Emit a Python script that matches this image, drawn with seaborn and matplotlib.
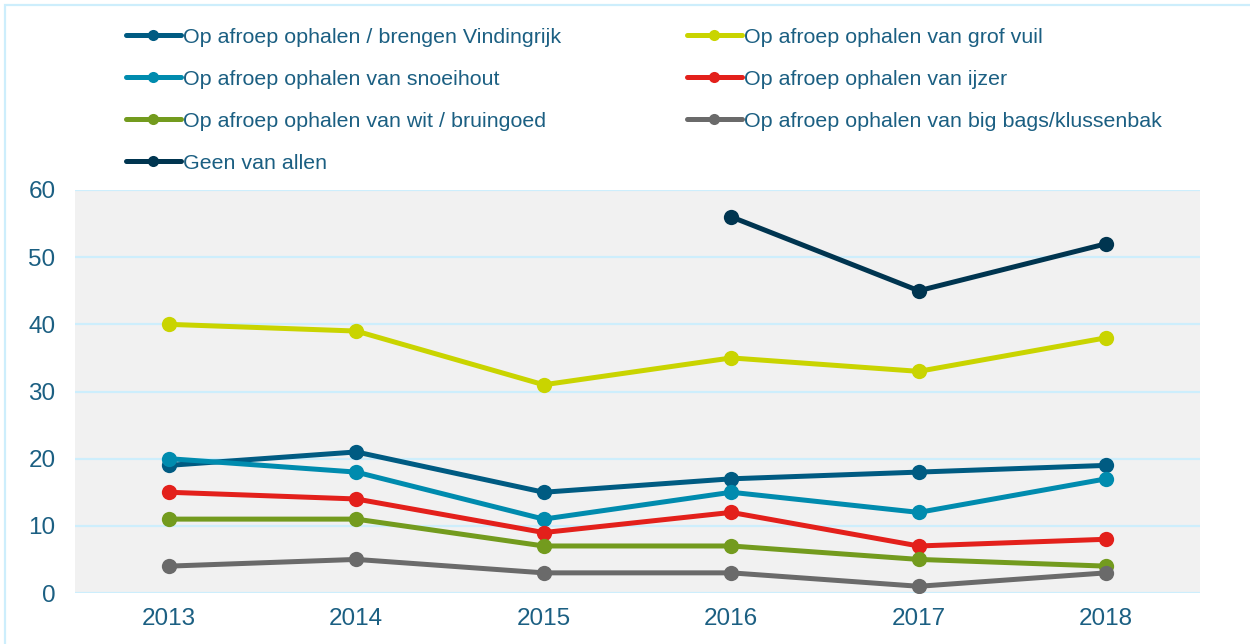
import numpy as np
import pandas as pd
import matplotlib
matplotlib.use("Agg")
import matplotlib.pyplot as plt
from matplotlib.patches import Rectangle
from matplotlib.lines import Line2D
import seaborn as sns

years = ["2013", "2014", "2015", "2016", "2017", "2018"]
vindingrijk = [19, 21, 15, 17, 18, 19]
grof_vuil = [40, 39, 31, 35, 33, 38]
snoeihout = [20, 18, 11, 15, 12, 17]
ijzer = [15, 14, 9, 12, 7, 8]
wit_bruingoed = [11, 11, 7, 7, 5, 4]
big_bags = [4, 5, 3, 3, 1, 3]
geen = [np.nan, np.nan, np.nan, 56, 45, 52]

series = [
    ("Op afroep ophalen / brengen Vindingrijk", vindingrijk, "#005b82"),
    ("Op afroep ophalen van grof vuil", grof_vuil, "#c9d400"),
    ("Op afroep ophalen van snoeihout", snoeihout, "#008bae"),
    ("Op afroep ophalen van ijzer", ijzer, "#e3201b"),
    ("Op afroep ophalen van wit / bruingoed", wit_bruingoed, "#739b1e"),
    ("Op afroep ophalen van big bags/klussenbak", big_bags, "#6a6a6a"),
    ("Geen van allen", geen, "#003550"),
]

sns.set_theme(style="white")
plt.rcParams['font.family'] = ['Liberation Sans', 'DejaVu Sans']
text_color = "#1b5f82"
grid_color = "#cdeefc"

fig = plt.figure(figsize=(12.5, 6.44), dpi=100)
ax = fig.add_axes([75/1250, 1 - 593/644, (1200-75)/1250, (593-190)/644])
ax.set_facecolor("#f1f1f1")

x_idx = np.arange(len(years))
handles = {}
for name, vals, col in series:
    df = pd.DataFrame({"x": x_idx, "y": vals}).dropna()
    sns.lineplot(data=df, x="x", y="y", ax=ax, color=col, linewidth=3.6,
                 marker="o", markersize=11, markeredgewidth=0, zorder=3)
    handles[name] = Line2D([], [], color=col, linewidth=3.6, marker="o",
                           markersize=8, markeredgewidth=0)

ax.set_xlim(-0.5, 5.5)
ax.set_ylim(0, 60)
ax.set_yticks(range(0, 61, 10))
ax.set_xticks(x_idx)
ax.set_xticklabels(years)
ax.set_xlabel("")
ax.set_ylabel("")
ax.yaxis.grid(True, color=grid_color, linewidth=1.6)
ax.set_axisbelow(True)
for s in ax.spines.values():
    s.set_visible(False)
ax.tick_params(axis="both", length=0, labelsize=17.5, colors=text_color)
ax.tick_params(axis="y", pad=14)
ax.tick_params(axis="x", pad=11)

order = [0, 2, 4, 6, 1, 3, 5]
names = [series[i][0] for i in order]
leg = fig.legend([handles[n] for n in names], names, loc="upper left",
                 bbox_to_anchor=(117/1250, 1 - 19/644), ncol=2, frameon=False,
                 fontsize=15.4, handlelength=2.57, handletextpad=0.1,
                 columnspacing=5.9, labelspacing=1.08, borderaxespad=0)
for t in leg.get_texts():
    t.set_color(text_color)

fig.patches.append(Rectangle((5/1250, -0.1), 1.2, 1 - 5/644 + 0.1,
                             transform=fig.transFigure, fill=False,
                             edgecolor=grid_color, linewidth=1.6))

fig.savefig("out.png", dpi=100)
